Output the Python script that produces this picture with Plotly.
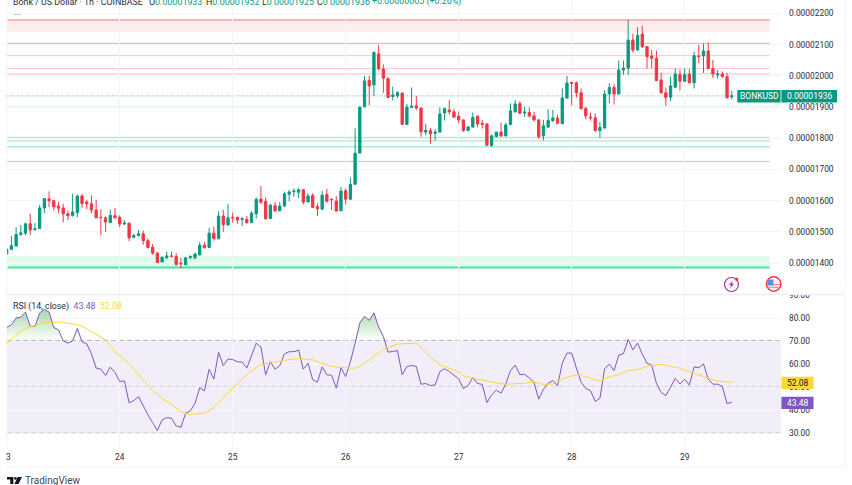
import numpy as np
import pandas as pd
import plotly.graph_objects as go

# hourly candles, prices in 1e-8 USD
OPEN = [1430,1444,1455,1492,1496,1526,1507,1511,1577,1606,
        1600,1583,1577,1558,1553,1562,1615,1596,1590,1570,
        1547,1545,1530,1552,1547,1525,1528,1483,1488,1494,
        1472,1451,1432,1404,1418,1423,1421,1400,1395,1418,
        1417,1427,1458,1450,1496,1479,1551,1522,1547,1547,
        1540,1540,1530,1558,1605,1598,1543,1584,1568,1583,
        1621,1629,1627,1635,1596,1617,1581,1573,1620,1605,
        1599,1568,1632,1605,1653,1753,1901,1986,1971,2071,
        2022,1991,1934,1936,1945,1844,1899,1904,1897,1820,
        1825,1816,1820,1881,1891,1885,1871,1859,1825,1836,
        1871,1848,1846,1777,1806,1820,1808,1844,1885,1911,
        1881,1883,1872,1859,1808,1836,1857,1865,1847,1929,
        1979,1978,1946,1896,1868,1866,1825,1833,1942,1963,
        1942,2019,2025,2115,2083,2134,2094,2064,2057,1987,
        1946,1932,1964,2004,1983,2006,1978,2064,2064,2080,
        2023,2003,2006,1997,1933]
HIGH = [1448,1487,1515,1522,1530,1558,1528,1587,1609,1630,
        1603,1596,1590,1568,1622,1620,1622,1603,1617,1603,
        1573,1549,1571,1577,1553,1538,1530,1494,1506,1504,
        1479,1461,1436,1421,1437,1437,1432,1416,1419,1425,
        1434,1468,1468,1513,1517,1566,1571,1590,1562,1549,
        1547,1551,1566,1611,1647,1611,1590,1596,1596,1629,
        1635,1639,1640,1637,1624,1624,1592,1631,1638,1607,
        1615,1644,1639,1675,1832,1902,2000,2000,2079,2099,
        2037,1996,1966,1951,1946,1910,1963,1936,1899,1846,
        1833,1829,1899,1899,1923,1895,1886,1861,1840,1883,
        1873,1859,1848,1812,1820,1850,1850,1912,1923,1919,
        1901,1899,1885,1861,1859,1893,1891,1875,1960,2000,
        1982,1982,1960,1901,1882,1880,1852,1955,1976,1974,
        2049,2049,2179,2136,2156,2160,2096,2083,2081,2010,
        1963,1998,2024,2021,2024,2021,2078,2099,2104,2107,
        2051,2019,2014,2010,1952]
LOW = [1427,1444,1453,1487,1490,1490,1504,1509,1560,1579,
       1568,1560,1530,1538,1549,1547,1577,1573,1560,1545,
       1489,1500,1528,1543,1515,1523,1470,1481,1487,1459,
       1447,1427,1400,1402,1412,1419,1391,1383,1393,1412,
       1412,1423,1447,1448,1472,1476,1500,1521,1530,1526,
       1519,1526,1528,1543,1590,1538,1541,1564,1566,1579,
       1598,1613,1608,1588,1594,1576,1551,1570,1594,1570,
       1565,1566,1588,1602,1651,1752,1899,1906,1936,2017,
       1946,1929,1921,1929,1843,1843,1897,1891,1805,1810,
       1782,1793,1818,1857,1876,1865,1848,1821,1822,1835,
       1835,1831,1775,1773,1803,1803,1805,1842,1882,1878,
       1869,1867,1854,1799,1793,1833,1852,1846,1845,1927,
       1906,1931,1893,1861,1857,1821,1802,1831,1912,1908,
       1940,2004,2004,2075,2081,2089,2023,2025,1983,1942,
       1904,1919,1961,1953,1981,1976,1960,2040,2010,2021,
       1993,1991,1994,1927,1925]
CLOSE = [1444,1456,1492,1497,1526,1506,1510,1577,1607,1600,
         1581,1576,1558,1552,1564,1615,1591,1590,1570,1545,
         1546,1532,1553,1545,1525,1528,1481,1488,1494,1472,
         1450,1432,1402,1419,1423,1421,1396,1398,1417,1421,
         1429,1457,1449,1496,1479,1551,1523,1545,1545,1538,
         1542,1530,1560,1604,1595,1543,1586,1568,1583,1622,
         1628,1631,1635,1596,1615,1579,1574,1618,1598,1603,
         1567,1631,1605,1652,1752,1900,1984,1968,2075,2023,
         1993,1931,1939,1946,1845,1900,1903,1897,1821,1826,
         1814,1820,1878,1895,1885,1868,1859,1825,1836,1867,
         1846,1845,1778,1808,1820,1808,1843,1888,1910,1880,
         1884,1872,1859,1805,1840,1857,1865,1848,1929,1977,
         1976,1946,1895,1872,1866,1825,1835,1942,1963,1942,
         2019,2025,2115,2083,2130,2094,2062,2057,1985,1946,
         1931,1968,2006,1983,2004,1978,2065,2062,2080,2024,
         2006,2006,1998,1930,1936]

RSI = [75.9,77.1,80.0,80.4,82.6,76.4,76.4,82.2,83.8,82.6,
       75.9,74.9,70.1,69.1,70.1,75.5,69.7,68.8,64.5,58.3,
       57.8,55.1,58.7,56.4,52.5,52.7,43.2,44.2,45.9,41.6,
       38.0,34.6,31.2,35.8,36.8,36.5,33.2,32.6,38.7,39.7,
       43.0,49.8,48.4,57.8,53.5,65.1,59.4,62.2,62.0,61.0,
       60.9,58.3,64.0,69.1,67.4,55.4,61.1,57.8,59.3,64.5,
       65.4,65.4,66.1,57.8,60.4,53.2,52.2,58.8,55.4,55.2,
       49.6,58.4,54.6,61.0,69.1,77.8,80.7,79.0,82.3,76.1,
       72.0,65.2,65.5,65.9,55.4,59.0,59.4,59.0,51.3,51.6,
       50.7,51.0,56.7,58.0,56.8,55.1,53.6,49.4,50.7,54.2,
       51.6,51.2,43.3,46.7,48.7,47.4,51.4,57.2,59.6,55.4,
       55.6,54.0,52.0,44.8,49.1,51.7,52.9,50.6,60.4,64.8,
       64.8,58.3,52.2,49.4,48.5,43.8,45.2,58.0,60.0,57.2,
       63.9,64.6,70.7,66.2,69.1,64.3,60.4,59.6,51.7,47.7,
       46.4,50.0,53.8,51.4,53.5,50.9,58.8,58.5,60.1,53.5,
       51.3,51.3,50.3,42.9,43.48]

# RSI moving average, read at these candles
MA_HOURS = [0,2,4,6,8,10,12,13,15,17,19,21,23,25,27,29,31,33,35,37,39,42,44,46,48,50,52,54,57,59,
            62,65,68,70,74,76,78,80,83,87,90,92,96,97,99,103,106,110,112,114,116,117,119,
            121,123,126,128,130,132,134,136,139,143,146,149,151,154]
MA_VALUES = [68.8,72.7,75.4,76.8,78.1,78.2,78.2,77.7,77.2,75.4,73.0,70.6,65.5,61.9,57.8,53.2,48.5,45.2,42.5,39.4,38.1,38.8,41.1,45.6,49.5,53.5,57.2,59.8,61.1,61.7,
             62.5,61.9,59.6,58.7,58.2,60.4,63.3,66.5,68.7,69.1,63.0,59.7,56.7,54.9,53.9,52.2,51.3,51.7,52.3,51.2,51.4,52.5,54.3,
             55.3,54.6,52.7,54.5,55.4,57.2,57.7,59.0,60.0,58.2,56.0,53.9,52.7,52.08]

DAY_LABELS = ["24", "25", "26", "27", "28", "29"]
PRICE_TICKS = [1400, 1500, 1600, 1700, 1800, 1900, 2000, 2100, 2200]
RSI_TICKS = [30, 40, 50, 60, 70, 80, 90]
RSI_LEVELS = [30, 50, 70]

RED_BAND = [2140, 2179]
RED_LINES = [2179, 2103, 2065, 2024, 2007]
RED_FAINT_BAND = [1998, 2007]
LAST_PRICE = 1936
GREEN_FAINT_BAND = [1899, 1906]
GREEN_LINES = [1803, 1773, 1726, 1386]
GREEN_BAND_THIN = [1788, 1795]
GREEN_BAND = [1389, 1423]

TEAL = "#089981"
RED = "#f23645"
PURPLE = "#7e57c2"
YELLOW = "#fdd835"
TEXT = "#2a2e39"
GRID = "#f3f4f7"
FONT = "Roboto, sans-serif"
W, H = 852, 485
LEFT, RIGHT = 7, 781
LEVEL_END = (769.7 - LEFT) / (RIGHT - LEFT)

hours = pd.date_range("2024-06-23", periods=len(CLOSE), freq="h")
day_ticks = [hours[0] + pd.Timedelta(days=d + 1) for d in range(len(DAY_LABELS))]
x_range = [hours[0] + pd.Timedelta(hours=0.064), hours[0] + pd.Timedelta(hours=164.46)]
x_range = [str(t) for t in x_range]


def px(x):
    return x / W


def py(y):
    return 1 - y / H


def price(v):
    return np.array(v) / 1e8


fig = go.Figure()
fig.add_trace(go.Candlestick(
    x=hours, open=price(OPEN), high=price(HIGH), low=price(LOW), close=price(CLOSE),
    increasing=dict(line=dict(color=TEAL, width=1), fillcolor=TEAL),
    decreasing=dict(line=dict(color=RED, width=1), fillcolor=RED),
    whiskerwidth=0, xaxis="x", yaxis="y", showlegend=False))

# overbought gradient above the 70 line
rsi = np.array(RSI)
fig.add_trace(go.Scatter(x=hours, y=[70] * len(rsi), mode="lines", line=dict(width=0),
                         xaxis="x2", yaxis="y2", showlegend=False))
fig.add_trace(go.Scatter(x=hours, y=np.maximum(rsi, 70), mode="lines", line=dict(width=0),
                         fill="tonexty",
                         fillgradient=dict(type="vertical", start=70, stop=84,
                                           colorscale=[[0, "rgba(76,175,80,0)"], [1, "rgba(76,175,80,0.5)"]]),
                         xaxis="x2", yaxis="y2", showlegend=False))
fig.add_trace(go.Scatter(x=hours, y=RSI, mode="lines", line=dict(color=PURPLE, width=1),
                         xaxis="x2", yaxis="y2", showlegend=False))
fig.add_trace(go.Scatter(x=hours[MA_HOURS], y=MA_VALUES, mode="lines", line=dict(color=YELLOW, width=1),
                         xaxis="x2", yaxis="y2", showlegend=False))

shapes = []


def price_band(lo, hi, color, x1=1.0):
    shapes.append(dict(type="rect", xref="x domain", yref="y", x0=0, x1=x1,
                       y0=lo / 1e8, y1=hi / 1e8, fillcolor=color, line_width=0, layer="below"))


def price_line(v, color, width, x1=LEVEL_END, dash="solid"):
    shapes.append(dict(type="line", xref="x domain", yref="y", x0=0, x1=x1,
                       y0=v / 1e8, y1=v / 1e8, line=dict(color=color, width=width, dash=dash), layer="below"))


def frame_line(x0, y0, x1, y1, color="#f0f3fa", width=1, layer="below"):
    shapes.append(dict(type="line", xref="paper", yref="paper", x0=px(x0), x1=px(x1),
                       y0=py(y0), y1=py(y1), line=dict(color=color, width=width), layer=layer))


def tag(x0, y0, x1, y1, color):
    shapes.append(dict(type="rect", xref="paper", yref="paper", x0=px(x0), x1=px(x1),
                       y0=py(y0), y1=py(y1), fillcolor=color, line_width=0, layer="above"))


price_band(RED_BAND[0], RED_BAND[1], "#feeded", LEVEL_END)
price_band(RED_FAINT_BAND[0], RED_FAINT_BAND[1], "#fef6f6")
price_band(GREEN_FAINT_BAND[0], GREEN_FAINT_BAND[1], "#ebf9f3")
price_band(GREEN_BAND_THIN[0], GREEN_BAND_THIN[1], "#c6f5df", LEVEL_END)
price_band(GREEN_BAND[0], GREEN_BAND[1], "#e2f9ee", LEVEL_END)
for v, w in zip(RED_LINES, [2, 2, 1, 1, 1]):
    price_line(v, "#ffb4b4" if w > 1 else "#ffc4c4", w)
for v, c, w in zip(GREEN_LINES, ["#a3e8c9", "#a2f0cd", "#93e3bb", "#3de89a"], [1, 1.5, 1, 2]):
    price_line(v, c, w)
price_line(LAST_PRICE, "#63bcab", 1, 1.0, "1px,1.5px")

# RSI band and levels
shapes.append(dict(type="rect", xref="x2 domain", yref="y2", x0=0, x1=1, y0=RSI_LEVELS[0], y1=RSI_LEVELS[2],
                   fillcolor="rgba(126,87,194,0.1)", line_width=0, layer="below"))
for v in RSI_LEVELS:
    shapes.append(dict(type="line", xref="x2 domain", yref="y2", x0=0, x1=1, y0=v, y1=v,
                       line=dict(color="#787b86", width=1.1, dash="5px,3px"), layer="below"))

# frame
frame_line(LEFT, 0, LEFT, 467)
frame_line(LEFT, 467, 845, 467)
frame_line(845, 0, 845, 467)
tag(782, 279, 844.5, 294.5, "#ffffff")
frame_line(LEFT, 294.5, 845, 294.5, "#eceef3", 1.5, "above")

# axis tags
tag(737.3, 90, 780.6, 102.5, TEAL)
tag(781.4, 90, 837, 102.5, TEAL)
tag(781.4, 376.7, 813.5, 389, YELLOW)
tag(781.4, 396.7, 813.5, 409, PURPLE)


def path(points, close=True):
    d = "M" + " L".join("%.4f,%.4f" % (px(a), py(b)) for a, b in points)
    return d + (" Z" if close else "")


def circle(cx, cy, r, line=None, fill=None, width=1.2):
    shapes.append(dict(type="circle", xref="paper", yref="paper", x0=px(cx - r), x1=px(cx + r),
                       y0=py(cy + r), y1=py(cy - r), fillcolor=fill or "rgba(0,0,0,0)",
                       line=dict(color=line or "rgba(0,0,0,0)", width=width), layer="above"))


def poly(points, fill):
    shapes.append(dict(type="path", xref="paper", yref="paper", path=path(points), fillcolor=fill,
                       line_width=0, layer="above"))


# event icons
circle(731.5, 284.5, 7, "#a32fb8", "#ffffff")
poly([(733, 280.3), (729, 285), (731.2, 285), (729.7, 288.7), (734, 283.8), (731.8, 283.8)], "#a32fb8")
circle(736.7, 279.3, 1.7, None, RED, 0)
circle(773.7, 284, 7.2, RED, "#ffffff", 1.5)
for sy in [284.5, 287.2]:
    frame_line(767.5, sy, 780, sy, "#f7808b", 1.2, "above")
poly([(767.5, 279.5), (773.5, 279.5), (773.5, 285.5), (767.5, 285.5)], "#5b8fe8")

# TradingView logo
poly([(7, 477), (13.4, 477), (13.4, 484), (10.2, 484), (10.2, 479.6), (7, 479.6)], "#131722")
circle(15.4, 478.4, 1.3, None, "#131722", 0)
poly([(17.6, 477), (22, 477), (18.6, 484), (14.4, 484)], "#131722")


def note(x, y, text, size=8.5, color=TEXT, anchor="left"):
    return dict(xref="paper", yref="paper", x=px(x), y=py(y), text=text, showarrow=False,
                xanchor=anchor, yanchor="middle", align=anchor,
                font=dict(family=FONT, size=size, color=color), borderpad=0, borderwidth=0)


def span(text, color):
    return '<span style="color:%s">%s</span>' % (color, text)


rsi_title = ("RSI (14, close)  " + span("43.48", PURPLE) + "  " + span("52.08", YELLOW))
annotations = [
    note(13.3, 1.8, "Bonk / US Dollar · 1h · COINBASE", 8.9),
    note(149, 1.8, "O" + span("0.00001933", TEAL), 8.9),
    note(205.7, 1.8, "H" + span("0.00001952", TEAL), 8.9),
    note(261.7, 1.8, "L" + span("0.00001925", TEAL), 8.9),
    note(316.7, 1.8, "C" + span("0.00001936", TEAL), 8.9),
    note(372.3, 1.8, span("+0.00000005 (+0.26%)", TEAL), 8.9),
    note(14, 14.5, "···", 9, "#50535e"),
    note(13.3, 306, rsi_title, 8.8),
    note(8.7, 457, "3", 8.5, TEXT, "center"),
    note(759, 96.3, "BONKUSD", 8.5, "#ffffff", "center"),
    note(809.2, 96.3, "0.00001936", 8.5, "#ffffff", "center"),
    note(797.5, 383, "52.08", 8.5, "#131722", "center"),
    note(797.5, 403, "43.48", 8.5, "#ffffff", "center"),
    note(25, 480.3, "TradingView", 10, "#434651"),
]

axis_common = dict(showline=False, zeroline=False, ticks="", gridcolor=GRID, gridwidth=1)
fig.update_layout(
    width=W, height=H, margin=dict(l=0, r=0, t=0, b=0, autoexpand=False),
    paper_bgcolor="white", plot_bgcolor="white", showlegend=False,
    font=dict(family=FONT, size=8.4, color=TEXT),
    shapes=shapes, annotations=annotations,
    xaxis=dict(domain=[px(LEFT), px(RIGHT)], anchor="y", range=x_range, rangeslider=dict(visible=False),
               tickvals=day_ticks, showticklabels=False, **axis_common),
    xaxis2=dict(domain=[px(LEFT), px(RIGHT)], anchor="y2", range=x_range, tickvals=day_ticks,
                ticktext=DAY_LABELS, ticklabelstandoff=4, **axis_common),
    yaxis=dict(domain=[py(294), 1], anchor="x", side="right", range=[1301e-8, 2243.3e-8],
               tickvals=[p / 1e8 for p in PRICE_TICKS],
               ticktext=["%.8f" % (p / 1e8) for p in PRICE_TICKS],
               ticklabelstandoff=7, **axis_common),
    yaxis2=dict(domain=[py(447), py(295)], anchor="x2", side="right", range=[24.05, 90],
                tickvals=RSI_TICKS, ticktext=["%.2f" % t for t in RSI_TICKS],
                ticklabelstandoff=7, **axis_common),
)

fig.write_html("out.html", config=dict(displayModeBar=False),
               post_script="document.body.style.margin='0';")
